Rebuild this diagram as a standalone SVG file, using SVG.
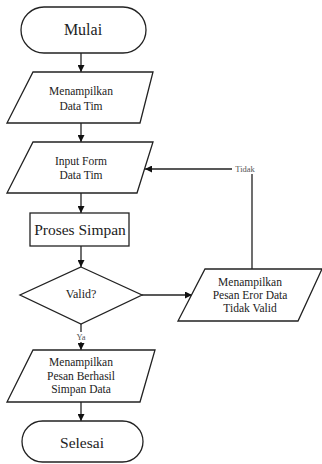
<svg xmlns="http://www.w3.org/2000/svg" width="322" height="464" viewBox="0 0 322 464" font-family="'Liberation Serif', 'Times New Roman', serif">
<defs>
<style>
.s{fill:#fff;stroke:#222;stroke-width:1.3}
.c{fill:none;stroke:#222;stroke-width:1.3}
text{font-family:'Liberation Serif','Times New Roman',serif;fill:#222;text-anchor:middle;dominant-baseline:central}
.t{font-size:11.5px}
.b{font-size:16px}
.l{font-size:8.5px;fill:#555}
</style>
<marker id="ah" viewBox="0 0 10 10" refX="10" refY="5" markerWidth="7" markerHeight="7" orient="auto" markerUnits="userSpaceOnUse">
<path d="M0,0 L10,5 L0,10 z" fill="#111"/>
</marker>
</defs>
<rect width="322" height="464" fill="#fff"/>
<g id="connectors">
<line class="c" x1="81" y1="53" x2="81" y2="72" marker-end="url(#ah)"/>
<line class="c" x1="81" y1="123" x2="81" y2="142" marker-end="url(#ah)"/>
<line class="c" x1="81" y1="193" x2="81" y2="213" marker-end="url(#ah)"/>
<line class="c" x1="81" y1="246" x2="81" y2="267" marker-end="url(#ah)"/>
<line class="c" x1="81" y1="324" x2="81" y2="350" marker-end="url(#ah)"/>
<line class="c" x1="81" y1="402" x2="81" y2="421" marker-end="url(#ah)"/>
<line class="c" x1="142" y1="295" x2="192" y2="295" marker-end="url(#ah)"/>
<polyline class="c" points="252,269 252,169 145,169" marker-end="url(#ah)"/>
<rect x="232" y="164" width="26" height="10" fill="#fff"/>
<text class="l" x="245" y="169">Tidak</text>
<rect x="76" y="332" width="11" height="10" fill="#fff"/>
<text class="l" x="81" y="337">Ya</text>
</g>
<g id="mulai">
<rect class="s" x="21" y="7" width="125" height="46" rx="23"/>
<text class="b" x="83" y="29">Mulai</text>
</g>
<g id="tampil-data">
<polygon class="s" points="33,72 153,72 140,123 7,123"/>
<text class="t" x="81" y="91">Menampilkan</text>
<text class="t" x="81" y="106">Data Tim</text>
</g>
<g id="input-form">
<polygon class="s" points="33,142 153,142 137,193 7,193"/>
<text class="t" x="81" y="161">Input Form</text>
<text class="t" x="81" y="175">Data Tim</text>
</g>
<g id="proses-simpan">
<rect class="s" x="30" y="213" width="99" height="33"/>
<text class="b" x="80" y="229" style="font-size:15.5px">Proses Simpan</text>
</g>
<g id="valid">
<polygon class="s" points="81,267 142,295 81,324 20,295"/>
<text x="81" y="294" style="font-size:12px">Valid?</text>
</g>
<g id="pesan-berhasil">
<polygon class="s" points="33,350 155,350 140,402 7,402"/>
<text class="t" x="81" y="362">Menampilkan</text>
<text class="t" x="81" y="376">Pesan Berhasil</text>
<text class="t" x="81" y="389">Simpan Data</text>
</g>
<g id="pesan-eror">
<polygon class="s" points="205,269 322,269 298,321 178,321"/>
<text class="t" x="250" y="282">Menampilkan</text>
<text class="t" x="250" y="295">Pesan Eror Data</text>
<text class="t" x="250" y="308">Tidak Valid</text>
</g>
<g id="selesai">
<rect class="s" x="22" y="421" width="121" height="41" rx="20.5"/>
<text class="b" x="82" y="442" style="font-size:15.5px">Selesai</text>
</g>
</svg>
